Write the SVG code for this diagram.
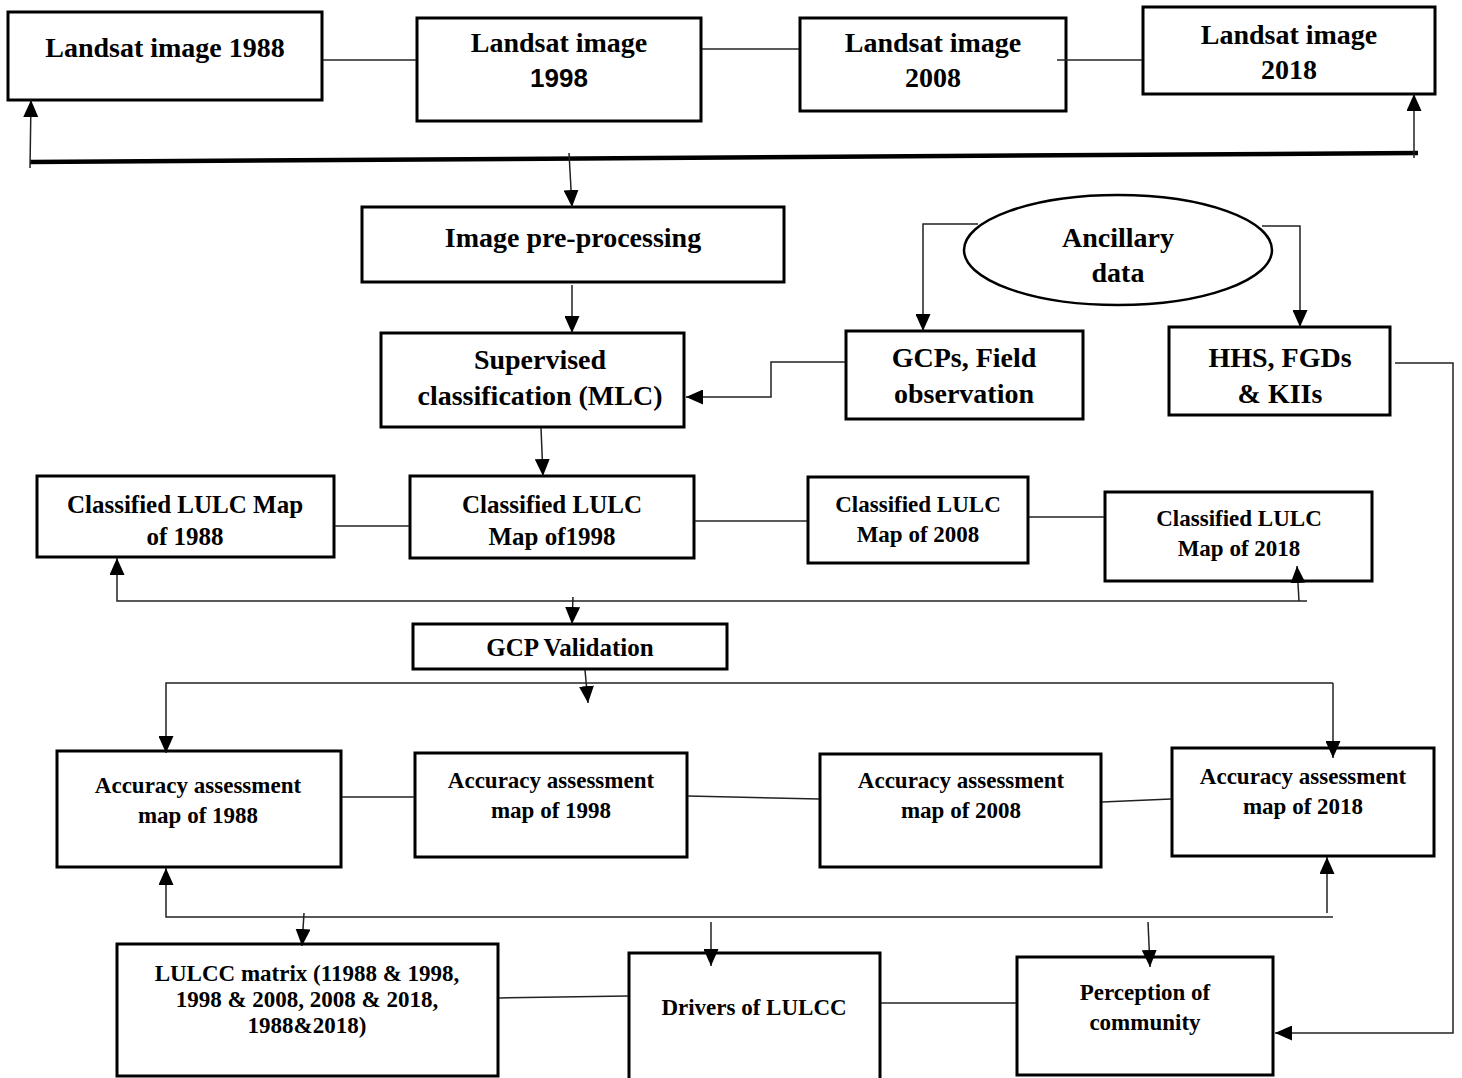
<svg xmlns="http://www.w3.org/2000/svg" width="1462" height="1078" viewBox="0 0 1462 1078">
<style>
.box{fill:#fff;stroke:#000;stroke-width:3}
.t{font-family:"Liberation Serif","Times New Roman",serif;font-weight:bold;fill:#000;text-anchor:middle}
.s28{font-size:28px}.s25{font-size:25px}.s23{font-size:23px}
.sans{font-family:"Liberation Sans",Arial,sans-serif;font-weight:bold;font-size:26px;fill:#000;text-anchor:middle}
.c{fill:none;stroke:#222;stroke-width:1.5}
.a{marker-end:url(#ah)}
</style>
<defs>
<marker id="ah" markerUnits="userSpaceOnUse" markerWidth="17" markerHeight="15" refX="17" refY="7.5" orient="auto">
<path d="M0,0 L17,7.5 L0,15 z" fill="#000"/>
</marker>
</defs>
<rect width="1462" height="1078" fill="#fff"/>
<g id="n-landsat1988"><rect class="box" x="8" y="12" width="314" height="88"/><text class="t s28" x="165" y="57">Landsat image 1988</text></g>
<g id="n-landsat1998"><rect class="box" x="417" y="18" width="284" height="103"/><text class="t s28" x="559" y="52">Landsat image</text><text class="sans" x="559" y="87">1998</text></g>
<g id="n-landsat2008"><rect class="box" x="800" y="18" width="266" height="93"/><text class="t s28" x="933" y="52">Landsat image</text><text class="t s28" x="933" y="87">2008</text></g>
<g id="n-landsat2018"><rect class="box" x="1143" y="7" width="292" height="87"/><text class="t s28" x="1289" y="44">Landsat image</text><text class="t s28" x="1289" y="79">2018</text></g>
<g id="n-preproc"><rect class="box" x="362" y="207" width="422" height="75"/><text class="t s28" x="573" y="247">Image pre-processing</text></g>
<g id="n-ancillary"><ellipse cx="1118" cy="250" rx="154" ry="55" fill="#fff" stroke="#000" stroke-width="2.5"/><text class="t s28" x="1118" y="247">Ancillary</text><text class="t s28" x="1118" y="282">data</text></g>
<g id="n-supervised"><rect class="box" x="381" y="333" width="303" height="94"/><text class="t s28" x="540" y="369">Supervised</text><text class="t s28" x="540" y="405">classification (MLC)</text></g>
<g id="n-gcps"><rect class="box" x="846" y="331" width="237" height="88"/><text class="t s28" x="964" y="367">GCPs, Field</text><text class="t s28" x="964" y="403">observation</text></g>
<g id="n-hhs"><rect class="box" x="1169" y="327" width="221" height="88"/><text class="t s28" x="1280" y="367">HHS, FGDs</text><text class="t s28" x="1280" y="403">&amp; KIIs</text></g>
<g id="n-c1988"><rect class="box" x="37" y="476" width="297" height="81"/><text class="t s25" x="185" y="513">Classified LULC Map</text><text class="t s25" x="185" y="545">of 1988</text></g>
<g id="n-c1998"><rect class="box" x="410" y="476" width="284" height="82"/><text class="t s25" x="552" y="513">Classified LULC</text><text class="t s25" x="552" y="545">Map of1998</text></g>
<g id="n-c2008"><rect class="box" x="808" y="477" width="220" height="86"/><text class="t s23" x="918" y="512">Classified LULC</text><text class="t s23" x="918" y="542">Map of 2008</text></g>
<g id="n-c2018"><rect class="box" x="1105" y="492" width="267" height="89"/><text class="t s23" x="1239" y="526">Classified LULC</text><text class="t s23" x="1239" y="556">Map of 2018</text></g>
<g id="n-gcpval"><rect class="box" x="413" y="624" width="314" height="45"/><text class="t s25" x="570" y="656">GCP Validation</text></g>
<g id="n-a1988"><rect class="box" x="57" y="751" width="284" height="116"/><text class="t s23" x="198" y="793">Accuracy assessment</text><text class="t s23" x="198" y="823">map of 1988</text></g>
<g id="n-a1998"><rect class="box" x="415" y="753" width="272" height="104"/><text class="t s23" x="551" y="788">Accuracy assessment</text><text class="t s23" x="551" y="818">map of 1998</text></g>
<g id="n-a2008"><rect class="box" x="820" y="754" width="281" height="113"/><text class="t s23" x="961" y="788">Accuracy assessment</text><text class="t s23" x="961" y="818">map of 2008</text></g>
<g id="n-a2018"><rect class="box" x="1172" y="748" width="262" height="108"/><text class="t s23" x="1303" y="784">Accuracy assessment</text><text class="t s23" x="1303" y="814">map of 2018</text></g>
<g id="n-lulcc"><rect class="box" x="117" y="944" width="381" height="132"/><text class="t s23" x="307" y="981">LULCC matrix (11988 &amp; 1998,</text><text class="t s23" x="307" y="1007">1998 &amp; 2008, 2008 &amp; 2018,</text><text class="t s23" x="307" y="1033">1988&amp;2018)</text></g>
<g id="n-drivers"><rect class="box" x="629" y="953" width="251" height="130"/><text class="t s23" x="754" y="1015">Drivers of LULCC</text></g>
<g id="n-perception"><rect class="box" x="1017" y="957" width="256" height="118"/><text class="t s23" x="1145" y="1000">Perception of</text><text class="t s23" x="1145" y="1030">community</text></g>
<g id="connectors">
<line class="c" x1="323" y1="60" x2="416" y2="60"/>
<line class="c" x1="702" y1="49" x2="799" y2="49"/>
<line class="c" x1="1057" y1="60" x2="1142" y2="60"/>
<line x1="30" y1="162" x2="1418" y2="153" stroke="#000" stroke-width="4.5"/>
<line class="c a" x1="30" y1="168" x2="31" y2="100"/>
<line class="c a" x1="1414" y1="158" x2="1414" y2="94"/>
<line class="c a" x1="569" y1="153" x2="572" y2="207"/>
<line class="c a" x1="572" y1="285" x2="572" y2="333"/>
<path class="c a" d="M845,362 H771 V397 H686"/>
<path class="c a" d="M978,224 H923 V331"/>
<path class="c a" d="M1262,226 H1300 V327"/>
<path class="c a" d="M1395,363 H1453 V1033 H1275"/>
<line class="c a" x1="541" y1="428" x2="543" y2="476"/>
<line class="c" x1="335" y1="526" x2="409" y2="526"/>
<line class="c" x1="695" y1="521" x2="807" y2="521"/>
<line class="c" x1="1029" y1="517" x2="1104" y2="517"/>
<path class="c a" d="M1307,601 H117 V558"/>
<line class="c a" x1="1299" y1="601" x2="1297" y2="566"/>
<line class="c a" x1="573" y1="597" x2="572" y2="624"/>
<line class="c a" x1="585" y1="670" x2="588" y2="703"/>
<path class="c a" d="M1333,683 H166 V753"/>
<line class="c a" x1="1333" y1="683" x2="1333" y2="758"/>
<line class="c" x1="342" y1="797" x2="414" y2="797"/>
<line class="c" x1="688" y1="796" x2="819" y2="799"/>
<line class="c" x1="1102" y1="802" x2="1171" y2="799"/>
<path class="c a" d="M1333,917 H166 V868"/>
<line class="c a" x1="1327" y1="913" x2="1327" y2="857"/>
<line class="c a" x1="304" y1="913" x2="302" y2="946"/>
<line class="c a" x1="711" y1="922" x2="711" y2="966"/>
<line class="c a" x1="1148" y1="922" x2="1150" y2="967"/>
<line class="c" x1="499" y1="998" x2="628" y2="996"/>
<line class="c" x1="881" y1="1003" x2="1016" y2="1003"/>
</g>
</svg>
